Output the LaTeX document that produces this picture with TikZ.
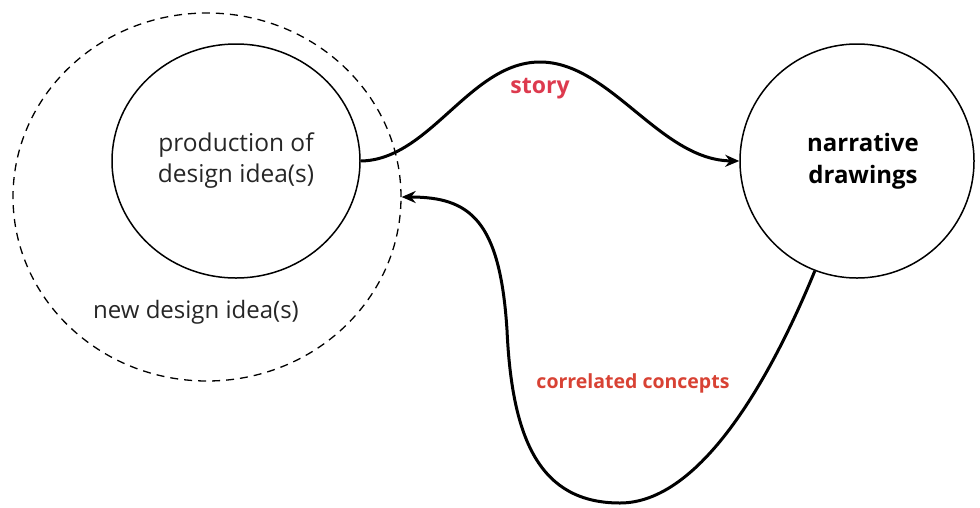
\documentclass[tikz,border=0pt]{standalone}
\usepackage{fontspec}
\setmainfont{Open Sans}
\usetikzlibrary{arrows.meta,shapes.geometric}
\definecolor{storyred}{RGB}{221,58,78}
\definecolor{corrred}{RGB}{216,66,52}
\tikzset{
  circ/.style={ellipse, draw=black, line width=1.5pt, inner sep=0pt, align=center,
    font=\fontsize{24.5}{31}\selectfont, text=black!85},
  flow/.style={line width=3pt, -{Stealth[length=14pt,width=12pt]}},
  lbl/.style={text=corrred}
}
\begin{document}
\begin{tikzpicture}[x=1pt,y=-1pt]
\useasboundingbox (0,0) rectangle (980,507);
\node[ellipse, draw=black, line width=1.3pt, dash pattern=on 8pt off 6pt,
  minimum width=388pt, minimum height=368pt, inner sep=0pt] (outer) at (207,197) {};
\node[circ, minimum width=248pt, minimum height=234pt] (prod) at (236,161)
  {production of\\design idea(s)};
\node[circ, minimum width=234pt, minimum height=234pt, font=\fontsize{24}{32}\selectfont\bfseries, text=black] (narr) at (857,161)
  {\hspace*{12pt}narrative\\\hspace*{12pt}drawings};
\node[font=\fontsize{24}{28}\selectfont, text=black!85] (newd) at (196,312) {new design idea(s)};
\coordinate (peak) at (540,62);
\coordinate (bot) at (620,503);
\coordinate (mid) at (507,330);
\draw[flow] (prod.east) .. controls (430,160) and (470,62) .. (peak)
  .. controls (610,62) and (660,160) .. (narr.west);
\draw[flow] (narr.-111) .. controls (770,380) and (700,503) .. (bot)
  .. controls (540,503) and (512,440) .. (mid)
  .. controls (500,220) and (470,197) .. (outer.east);
\node[lbl, text=storyred, font=\fontsize{23}{26}\selectfont\bfseries] (story) at (540,89) {story};
\node[lbl, font=\fontsize{19.5}{24}\selectfont\bfseries] (corr) at (633,383) {correlated concepts};
\end{tikzpicture}
\end{document}
